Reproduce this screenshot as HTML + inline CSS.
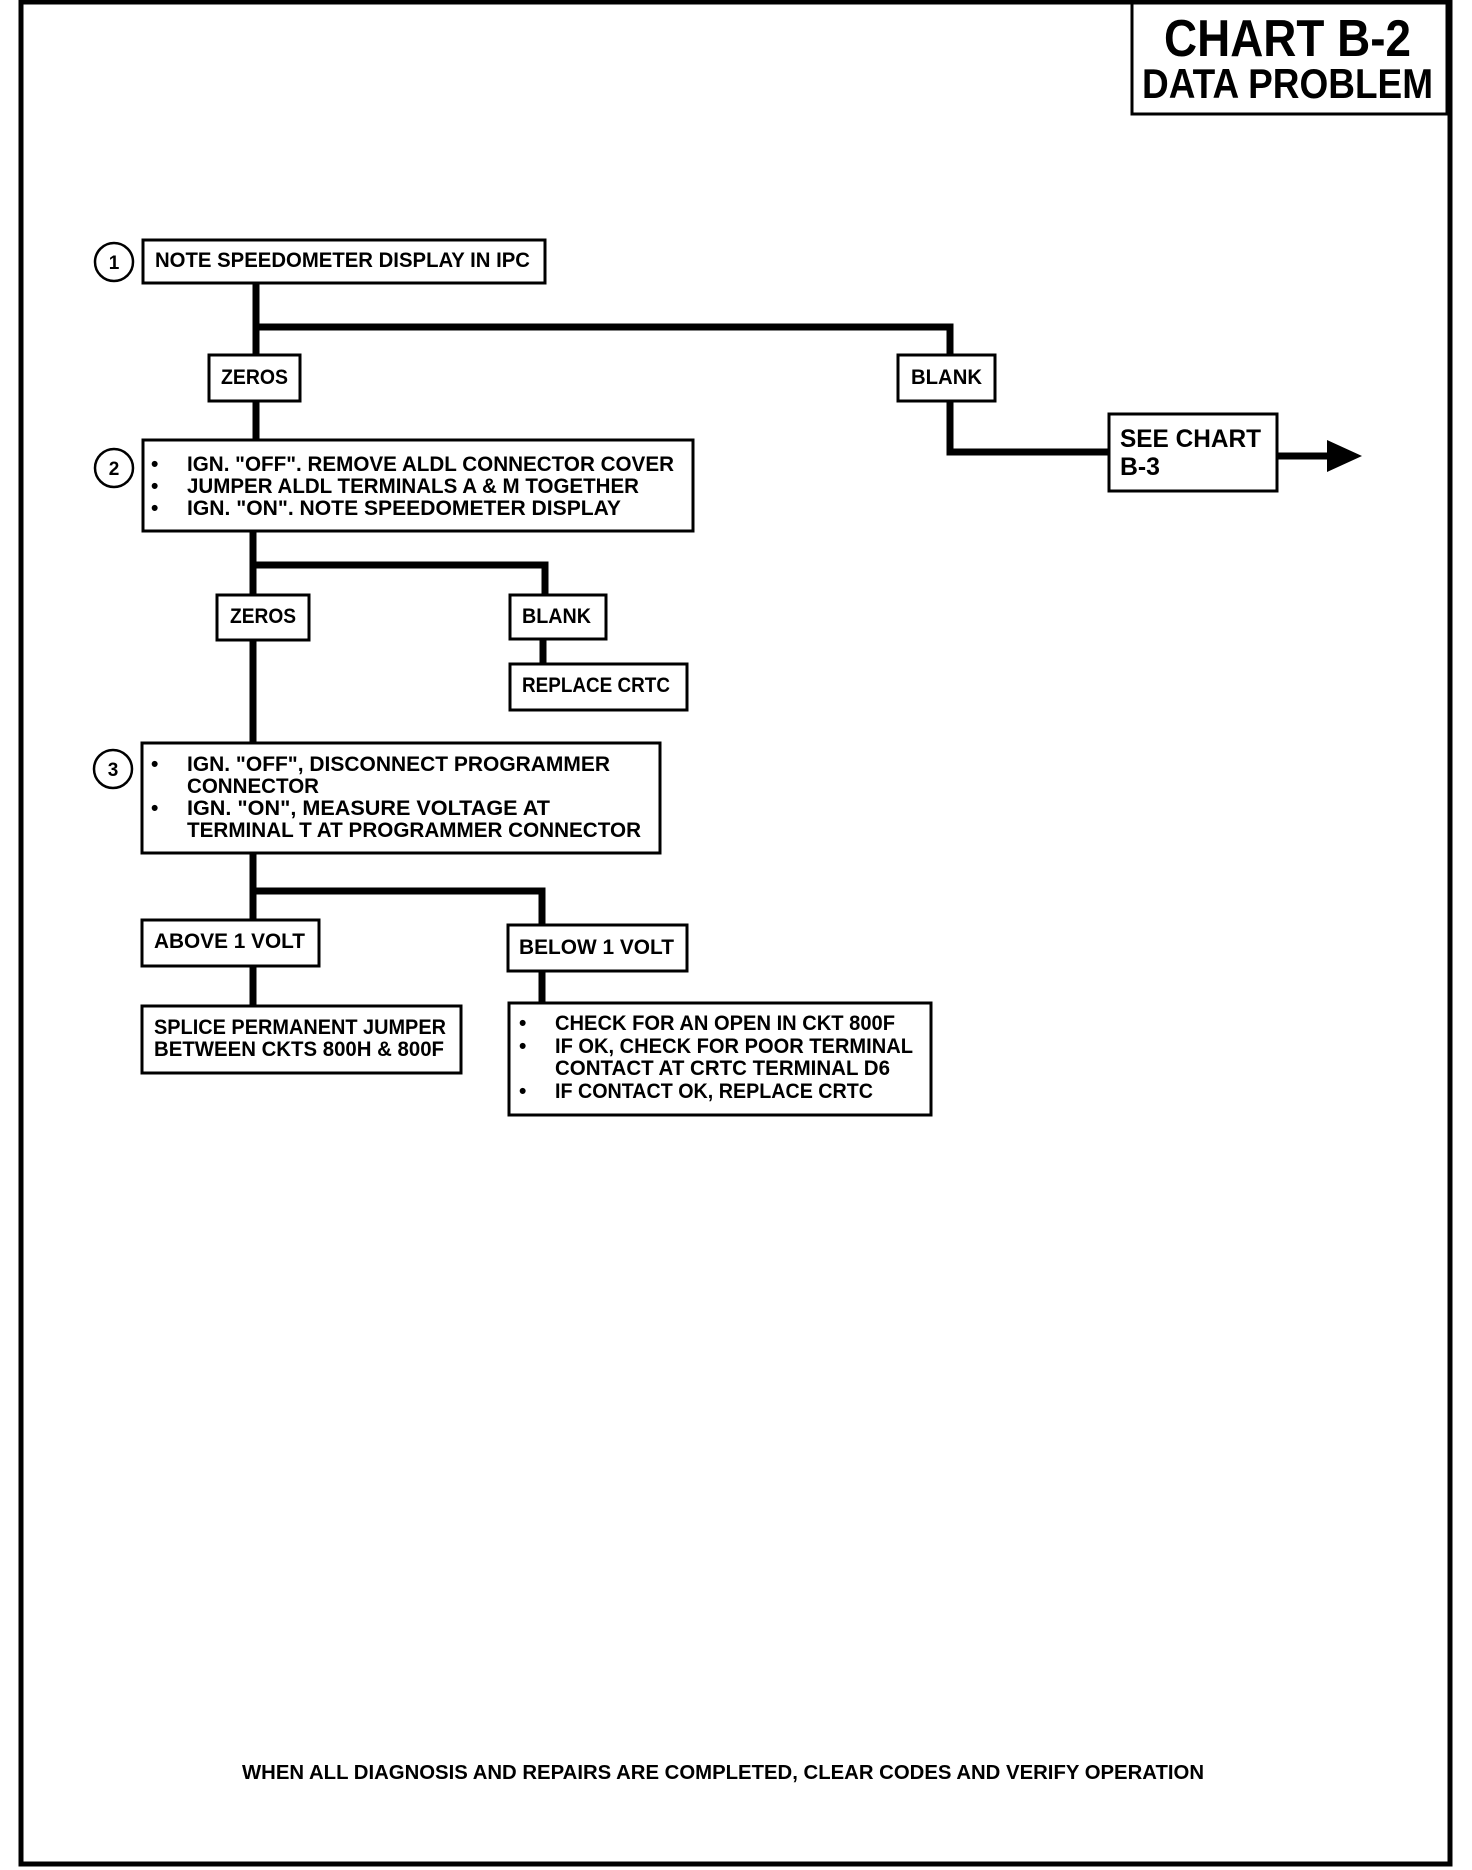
<!DOCTYPE html>
<html><head><meta charset="utf-8"><style>
html,body{margin:0;padding:0;background:#fff;}
svg{display:block;}
text{font-family:"Liberation Sans",sans-serif;font-weight:bold;fill:#000;}
</style></head><body>
<svg width="1472" height="1870" viewBox="0 0 1472 1870" xmlns="http://www.w3.org/2000/svg">
<rect x="0" y="0" width="1472" height="1870" fill="#fff"/>
<!-- outer border -->
<rect x="21" y="2" width="1429" height="1862" fill="none" stroke="#000" stroke-width="5"/>
<!-- title box -->
<rect x="1132" y="3" width="315" height="111" fill="#fff" stroke="#000" stroke-width="3"/>
<text x="1164" y="56" font-size="52" textLength="247" lengthAdjust="spacingAndGlyphs">CHART B-2</text>
<text x="1142" y="98" font-size="42" textLength="291" lengthAdjust="spacingAndGlyphs">DATA PROBLEM</text>

<g fill="none" stroke="#000" stroke-width="7">
<!-- connectors -->
<polyline points="256,283 256,355"/>
<polyline points="256,327 950,327 950,355"/>
<polyline points="950,401 950,452 1109,452"/>
<polyline points="1277,456 1330,456"/>
<polyline points="256,401 256,440"/>
<polyline points="253,531 253,743"/>
<polyline points="253,565 545,565 545,595"/>
<polyline points="543,639 543,664"/>
<polyline points="253,853 253,920"/>
<polyline points="253,891 542,891 542,925"/>
<polyline points="253,966 253,1006"/>
<polyline points="542,971 542,1003"/>
</g>
<polygon points="1327,440 1362,456 1327,472" fill="#000"/>

<g fill="#fff" stroke="#000" stroke-width="3">
<rect x="143" y="240" width="402" height="43"/>
<rect x="209" y="355" width="91" height="46"/>
<rect x="898" y="355" width="97" height="46"/>
<rect x="1109" y="414" width="168" height="77"/>
<rect x="143" y="440" width="550" height="91"/>
<rect x="217" y="595" width="92" height="45"/>
<rect x="510" y="595" width="96" height="44"/>
<rect x="510" y="664" width="177" height="46"/>
<rect x="142" y="743" width="518" height="110"/>
<rect x="142" y="920" width="177" height="46"/>
<rect x="508" y="925" width="179" height="46"/>
<rect x="142" y="1006" width="319" height="67"/>
<rect x="509" y="1003" width="422" height="112"/>
<circle cx="114" cy="262" r="19" stroke-width="2.5"/>
<circle cx="114" cy="468" r="19" stroke-width="2.5"/>
<circle cx="113" cy="769" r="19" stroke-width="2.5"/>
</g>
<text x="114" y="269" font-size="19" text-anchor="middle">1</text>
<text x="114" y="475" font-size="19" text-anchor="middle">2</text>
<text x="113" y="776" font-size="19" text-anchor="middle">3</text>

<g font-size="21">
<text x="155" y="267" textLength="375" lengthAdjust="spacingAndGlyphs">NOTE SPEEDOMETER DISPLAY IN IPC</text>
<text x="221" y="384" textLength="67" lengthAdjust="spacingAndGlyphs">ZEROS</text>
<text x="911" y="384" textLength="71" lengthAdjust="spacingAndGlyphs">BLANK</text>
<text x="1120" y="447" font-size="25" textLength="141" lengthAdjust="spacingAndGlyphs">SEE CHART</text>
<text x="1120" y="475" font-size="25" textLength="40" lengthAdjust="spacingAndGlyphs">B-3</text>

<text x="151" y="471">•</text><text x="187" y="471" textLength="487" lengthAdjust="spacingAndGlyphs">IGN. "OFF". REMOVE ALDL CONNECTOR COVER</text>
<text x="151" y="493">•</text><text x="187" y="493" textLength="452" lengthAdjust="spacingAndGlyphs">JUMPER ALDL TERMINALS A &amp; M TOGETHER</text>
<text x="151" y="515">•</text><text x="187" y="515" textLength="434" lengthAdjust="spacingAndGlyphs">IGN. "ON".  NOTE SPEEDOMETER DISPLAY</text>

<text x="230" y="623" textLength="66" lengthAdjust="spacingAndGlyphs">ZEROS</text>
<text x="522" y="623" textLength="69" lengthAdjust="spacingAndGlyphs">BLANK</text>
<text x="522" y="692" textLength="148" lengthAdjust="spacingAndGlyphs">REPLACE CRTC</text>

<text x="151" y="771">•</text><text x="187" y="771" textLength="423" lengthAdjust="spacingAndGlyphs">IGN. "OFF", DISCONNECT PROGRAMMER</text>
<text x="187" y="793" textLength="132" lengthAdjust="spacingAndGlyphs">CONNECTOR</text>
<text x="151" y="815">•</text><text x="187" y="815" textLength="363" lengthAdjust="spacingAndGlyphs">IGN. "ON", MEASURE VOLTAGE AT</text>
<text x="187" y="837" textLength="454" lengthAdjust="spacingAndGlyphs">TERMINAL T AT PROGRAMMER CONNECTOR</text>

<text x="154" y="948" textLength="151" lengthAdjust="spacingAndGlyphs">ABOVE 1 VOLT</text>
<text x="519" y="954" textLength="155" lengthAdjust="spacingAndGlyphs">BELOW 1 VOLT</text>

<text x="154" y="1034" textLength="292" lengthAdjust="spacingAndGlyphs">SPLICE PERMANENT JUMPER</text>
<text x="154" y="1056" textLength="290" lengthAdjust="spacingAndGlyphs">BETWEEN CKTS 800H &amp; 800F</text>

<text x="519" y="1030">•</text><text x="555" y="1030" textLength="340" lengthAdjust="spacingAndGlyphs">CHECK FOR AN OPEN IN CKT 800F</text>
<text x="519" y="1053">•</text><text x="555" y="1053" textLength="358" lengthAdjust="spacingAndGlyphs">IF OK, CHECK FOR POOR TERMINAL</text>
<text x="555" y="1075" textLength="335" lengthAdjust="spacingAndGlyphs">CONTACT AT CRTC TERMINAL D6</text>
<text x="519" y="1098">•</text><text x="555" y="1098" textLength="318" lengthAdjust="spacingAndGlyphs">IF CONTACT OK, REPLACE CRTC</text>

<text x="242" y="1779" font-size="20" textLength="962" lengthAdjust="spacingAndGlyphs">WHEN ALL DIAGNOSIS AND REPAIRS ARE COMPLETED, CLEAR CODES AND VERIFY OPERATION</text>
</g>
</svg>
</body></html>
